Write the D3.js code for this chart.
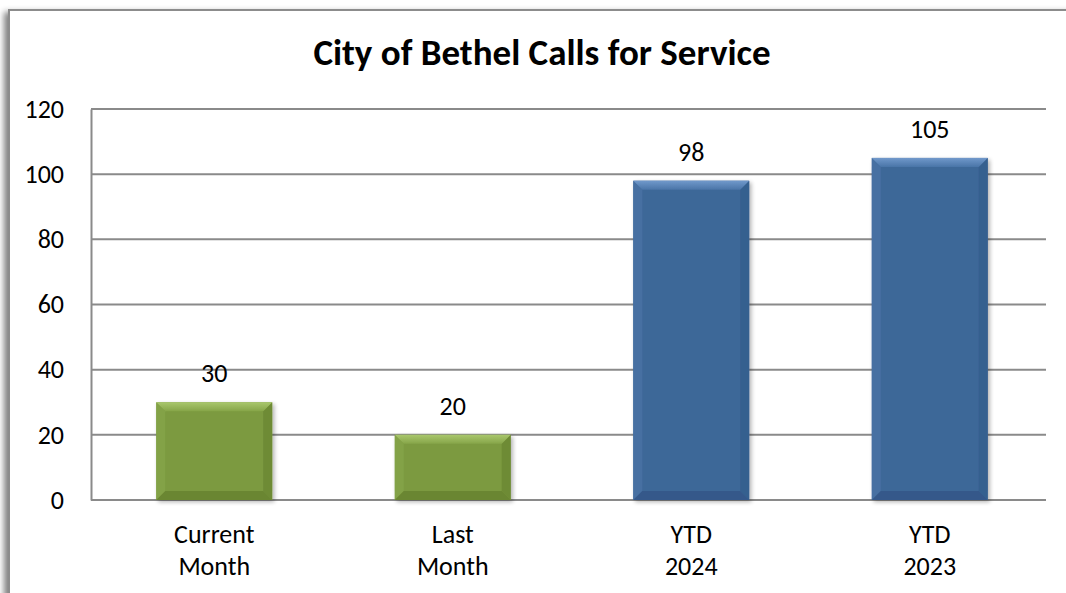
<!DOCTYPE html>
<html>
<head>
<meta charset="utf-8">
<script src="https://cdn.jsdelivr.net/npm/d3@7"></script>
<style>
  body { margin: 0; background: #fff; }
  text { font-family: Carlito, Lato, "Open Sans", sans-serif; }
</style>
</head>
<body>
<div id="chart"></div>
<script>
// chart data
var categories = ["Current\nMonth", "Last\nMonth", "YTD\n2024", "YTD\n2023"];
var calls = [30, 20, 98, 105];
var barKind = ["green", "green", "blue", "blue"];
var yTicks = [0, 20, 40, 60, 80, 100, 120];

var W = 1066, H = 593;
var margin = {left: 91, right: 20, top: 109, bottom: 93};

var svg = d3.select("#chart").append("svg").attr("width", W).attr("height", H);

var defs = svg.append("defs");
var sh = defs.append("filter").attr("id", "frameShadow").attr("x", "-5%").attr("y", "-5%").attr("width", "110%").attr("height", "110%");
sh.append("feGaussianBlur").attr("in", "SourceAlpha").attr("stdDeviation", 3);
sh.append("feOffset").attr("dx", -4).attr("dy", 3).attr("result", "b");
sh.append("feComponentTransfer").append("feFuncA").attr("type", "linear").attr("slope", 0.5);
var m = sh.append("feMerge");
m.append("feMergeNode");
m.append("feMergeNode").attr("in", "SourceGraphic");

var bs = defs.append("filter").attr("id", "barShadow").attr("x", "-10%").attr("y", "-10%").attr("width", "125%").attr("height", "125%");
bs.append("feGaussianBlur").attr("in", "SourceAlpha").attr("stdDeviation", 2);
bs.append("feOffset").attr("dx", 2).attr("dy", 2);
bs.append("feComponentTransfer").append("feFuncA").attr("type", "linear").attr("slope", 0.3);
var m2 = bs.append("feMerge");
m2.append("feMergeNode");
m2.append("feMergeNode").attr("in", "SourceGraphic");

// bar colours
var pal = {
  green: {main: "#7b9a3f", topA: "#a9c76c", topB: "#86a549", left: "#83a246", right: "#6e8b35", bottom: "#6a8632"},
  blue:  {main: "#3e6798", topA: "#7199cb", topB: "#4a75a8", left: "#4670a2", right: "#36608f", bottom: "#34598a"}
};
Object.keys(pal).forEach(function(k) {
  var lg = defs.append("linearGradient").attr("id", "top-" + k)
      .attr("x1", 0).attr("x2", 0).attr("y1", 0).attr("y2", 1);
  lg.append("stop").attr("offset", "0%").attr("stop-color", pal[k].topA);
  lg.append("stop").attr("offset", "100%").attr("stop-color", pal[k].topB);
});

// outer frame
svg.append("rect")
    .attr("x", 9).attr("y", 10).attr("width", W + 20).attr("height", H + 20)
    .attr("fill", "#fff").attr("stroke", "#8c8c8c").attr("stroke-width", 2)
    .attr("filter", "url(#frameShadow)");

var x = d3.scaleBand()
    .domain(categories)
    .range([95, W - 17])
    .paddingInner(0.514)
    .paddingOuter(0.257);

var y = d3.scaleLinear()
    .domain([0, 120])
    .range([H - margin.bottom, margin.top]);

// title
svg.append("text")
    .attr("x", 542).attr("y", 65)
    .attr("text-anchor", "middle")
    .attr("font-size", 37).attr("font-weight", "bold")
    .attr("fill", "#000")
    .text("City of Bethel Calls for Service");

// gridlines
svg.append("g").selectAll("line")
    .data(yTicks.slice(1)).enter().append("line")
    .attr("x1", margin.left).attr("x2", W - margin.right)
    .attr("y1", function(d) { return y(d); })
    .attr("y2", function(d) { return y(d); })
    .attr("stroke", "#8a8a8a").attr("stroke-width", 2);

// y axis
var yAxis = d3.axisLeft(y).tickValues(yTicks).tickSize(0).tickPadding(27);
var gy = svg.append("g")
    .attr("transform", "translate(" + margin.left + ",0)")
    .call(yAxis);
gy.select(".domain").attr("stroke", "#8a8a8a").attr("stroke-width", 2);
gy.selectAll("text").attr("font-size", 26).attr("fill", "#000")
    .attr("font-family", "Carlito, Lato, 'Open Sans', sans-serif");

// x axis line
svg.append("line")
    .attr("x1", margin.left).attr("x2", W - margin.right)
    .attr("y1", y(0)).attr("y2", y(0))
    .attr("stroke", "#8a8a8a").attr("stroke-width", 2);

// category labels
var xl = svg.append("g").selectAll("text")
    .data(categories).enter().append("text")
    .attr("text-anchor", "middle")
    .attr("font-size", 26).attr("fill", "#000");
xl.each(function(d) {
  var t = d3.select(this);
  d.split("\n").forEach(function(part, i) {
    t.append("tspan")
        .attr("x", x(d) + x.bandwidth() / 2)
        .attr("y", y(0) + 43 + i * 32)
        .text(part);
  });
});

var bev = 9;
var bars = svg.append("g").selectAll("g")
    .data(calls).enter().append("g")
    .attr("filter", "url(#barShadow)");

bars.each(function(v, i) {
  var g = d3.select(this);
  var k = barKind[i], c = pal[k];
  var x0 = x(categories[i]), x1 = x0 + x.bandwidth();
  var y0 = y(v), y1 = y(0);
  var b = Math.min(bev, (y1 - y0) / 3);
  g.append("rect").attr("x", x0).attr("y", y0).attr("width", x1 - x0).attr("height", y1 - y0).attr("fill", c.main);
  // bevel faces
  g.append("polygon").attr("fill", c.left)
      .attr("points", [[x0, y0], [x0 + b, y0 + b], [x0 + b, y1 - b], [x0, y1]].join(" "));
  g.append("polygon").attr("fill", c.right)
      .attr("points", [[x1, y0], [x1 - b, y0 + b], [x1 - b, y1 - b], [x1, y1]].join(" "));
  g.append("polygon").attr("fill", c.bottom)
      .attr("points", [[x0, y1], [x0 + b, y1 - b], [x1 - b, y1 - b], [x1, y1]].join(" "));
  g.append("polygon").attr("fill", "url(#top-" + k + ")")
      .attr("points", [[x0, y0], [x1, y0], [x1 - b, y0 + b], [x0 + b, y0 + b]].join(" "));
});

// value labels
svg.append("g").selectAll("text")
    .data(calls).enter().append("text")
    .attr("x", function(d, i) { return x(categories[i]) + x.bandwidth() / 2; })
    .attr("y", function(d) { return y(d) - 20; })
    .attr("text-anchor", "middle")
    .attr("font-size", 26).attr("fill", "#000")
    .text(function(d) { return d; });
</script>
</body>
</html>
